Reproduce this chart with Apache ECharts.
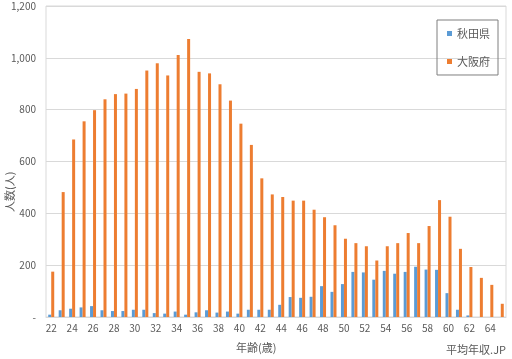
<!DOCTYPE html>
<html>
<head>
<meta charset="utf-8">
<script src="https://cdn.jsdelivr.net/npm/echarts@6/dist/echarts.min.js"></script>
<style>html,body{margin:0;padding:0;background:#fff;}#c{width:512px;height:359px;}</style>
</head>
<body>
<div id="c"></div>
<script>
const ages = ['22','23','24','25','26','27','28','29','30','31','32','33','34','35','36','37','38','39','40','41','42','43','44','45','46','47','48','49','50','51','52','53','54','55','56','57','58','59','60','61','62','63','64','65'];
const akita = [9,26,32,37,42,26,23,23,28,28,15,13,21,9,18,26,17,21,13,28,28,28,47,77,74,78,119,97,127,174,172,144,178,167,174,194,183,182,92,28,6,0,0,0];
const osaka = [175,482,685,755,798,840,860,862,880,951,979,932,1011,1073,946,940,898,835,746,664,535,473,463,449,449,414,385,354,302,285,273,218,273,285,324,285,351,451,387,263,193,151,124,51];
const yTicks = [0,200,400,600,800,1000,1200];
const seriesNames = ['秋田県','大阪府'];

const font = '"Noto Sans CJK JP", "Noto Sans", sans-serif';
const chart = echarts.init(document.getElementById('c'));
chart.setOption({
  animation: false,
  textStyle: {fontFamily: font},
  grid: {left: 46, right: 6, top: 6, bottom: 42, show: true, borderColor: '#D9D9D9', borderWidth: 1},
  legend: {
    orient: 'vertical', right: 14, top: 20, padding: [8, 8, 8, 10],
    width: 61, height: 56,
    borderColor: '#7F7F7F', borderWidth: 1, itemGap: 17,
    itemWidth: 5, itemHeight: 5, icon: 'rect',
    textStyle: {color: '#595959', fontSize: 11, fontFamily: font},
    data: seriesNames
  },
  xAxis: {
    type: 'category', data: ages,
    axisTick: {show: false},
    axisLine: {lineStyle: {color: '#D9D9D9'}},
    axisLabel: {interval: 1, color: '#595959', fontSize: 10, margin: 6, fontFamily: font}
  },
  yAxis: {
    type: 'value', min: yTicks[0], max: yTicks[yTicks.length - 1], interval: 200,
    axisLine: {show: false}, axisTick: {show: false},
    splitLine: {lineStyle: {color: '#D9D9D9'}},
    axisLabel: {color: '#595959', fontSize: 10, margin: 10, fontFamily: font,
      formatter: v => v === 0 ? '-' : v.toLocaleString('en-US')}
  },
  series: [
    {name: seriesNames[0], type: 'bar', data: akita, barWidth: 3, barGap: '0%', itemStyle: {color: '#5B9BD5'}},
    {name: seriesNames[1], type: 'bar', data: osaka, barWidth: 3, barGap: '0%', itemStyle: {color: '#ED7D31'}}
  ],
  graphic: [
    {type: 'text', left: 236, top: 342, style: {text: '年齢(歳)', fill: '#595959', font: '11px ' + font}},
    {type: 'text', right: 6, top: 344, style: {text: '平均年収.JP', fill: '#595959', font: '11px ' + font}},
    {type: 'text', x: 4, y: 212, rotation: Math.PI / 2, style: {text: '人数(人)', fill: '#595959', font: '11px ' + font}}
  ]
});
</script>
</body>
</html>
